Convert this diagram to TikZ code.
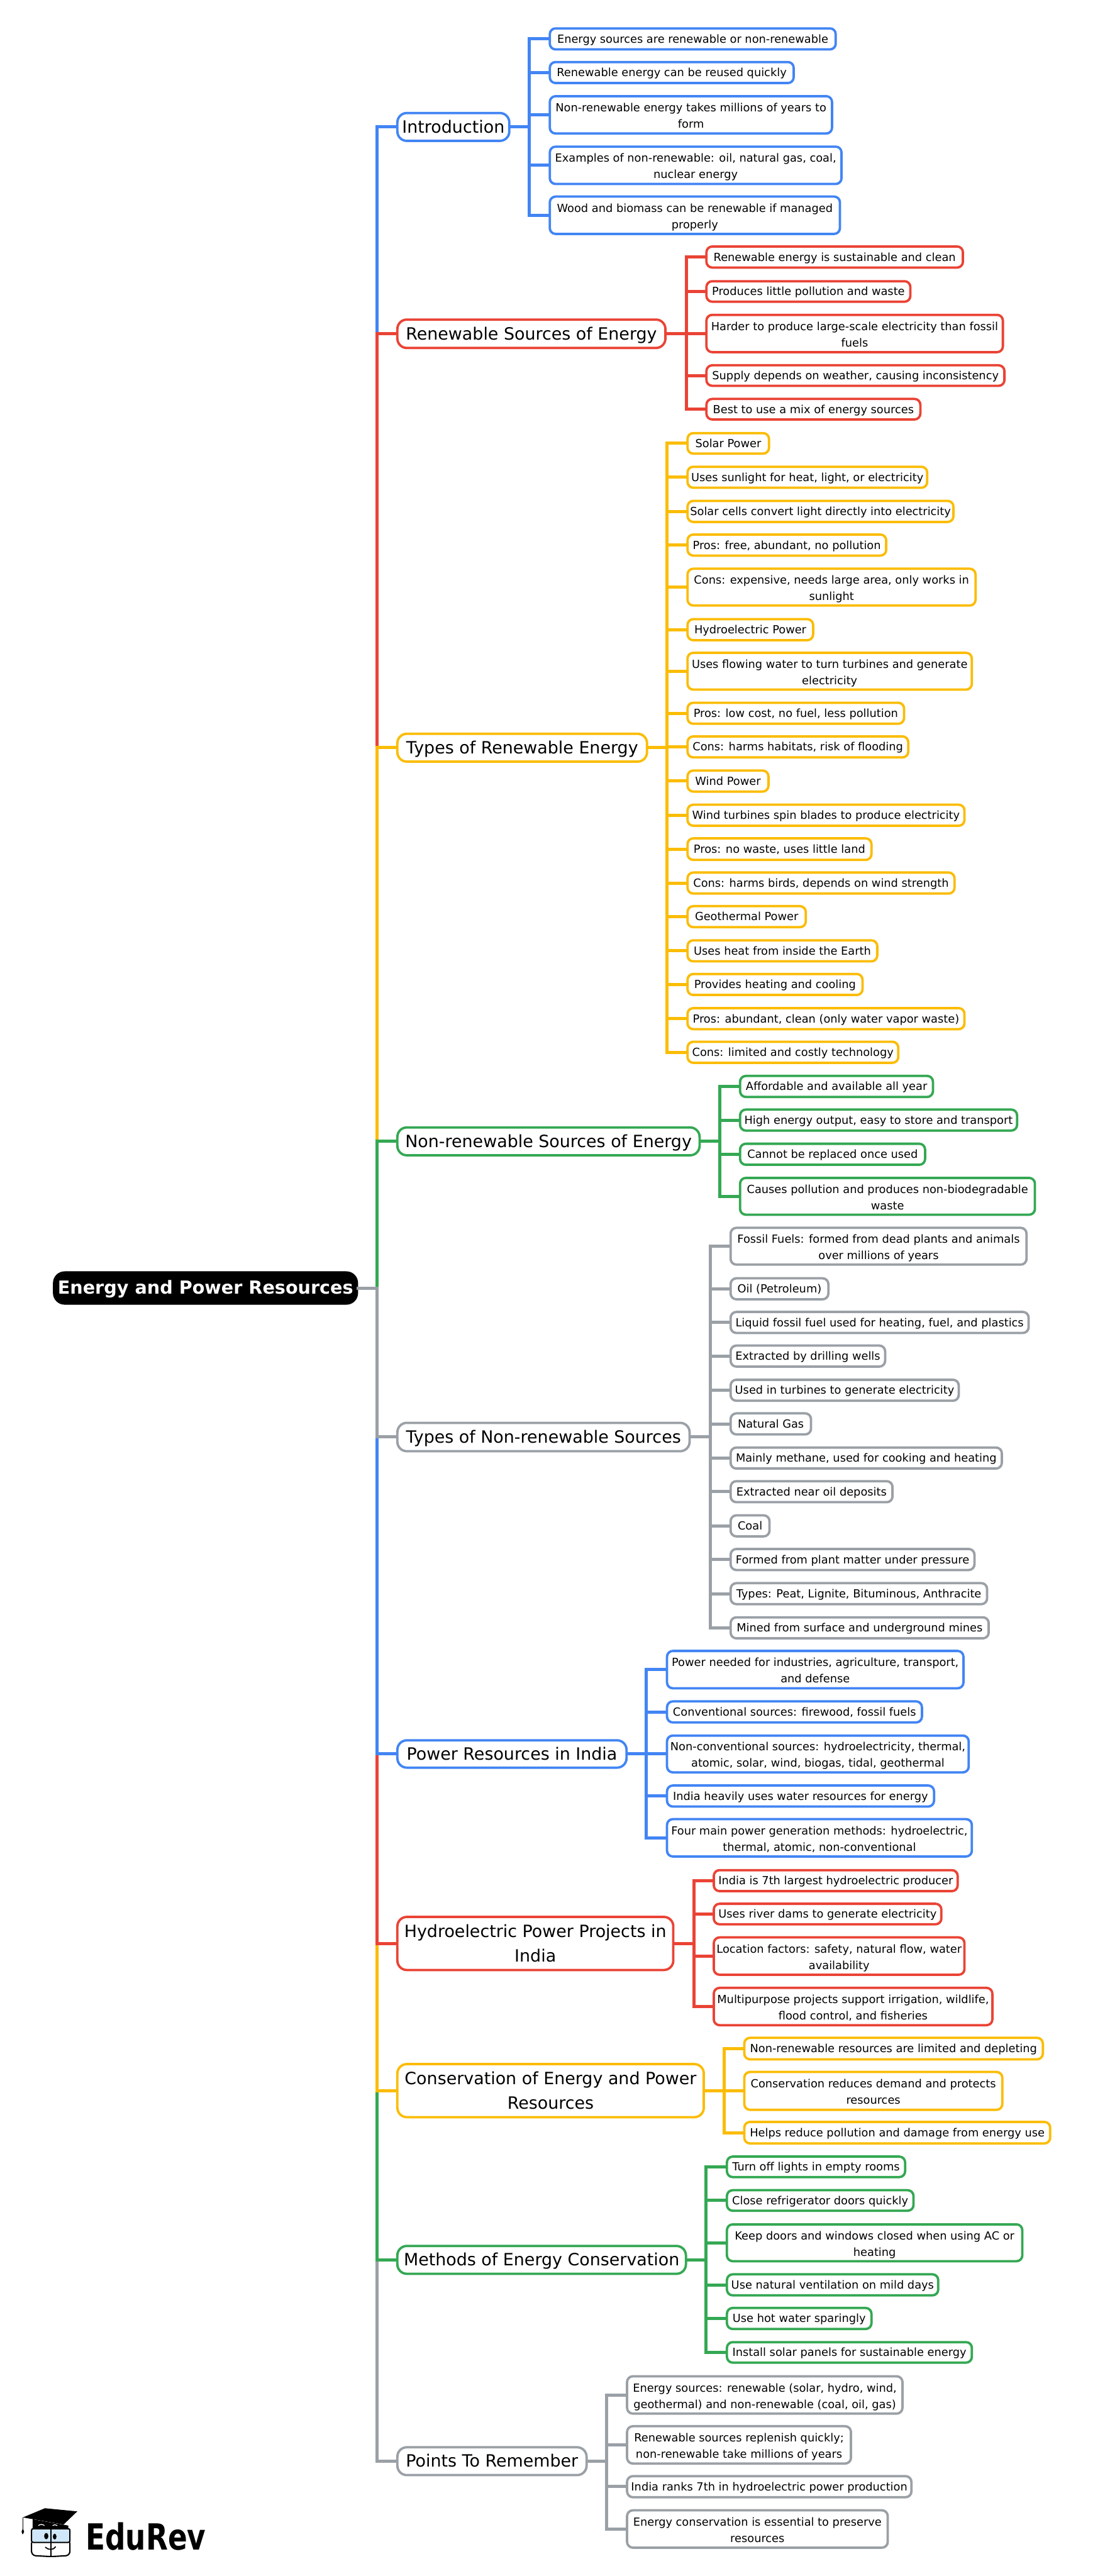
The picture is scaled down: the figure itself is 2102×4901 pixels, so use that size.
\documentclass[tikz,border=0pt]{standalone}
\usepackage{fontspec}
\setmainfont{DejaVu Sans}
\newfontfamily\logofont{DejaVu Sans Condensed}[BoldFont={DejaVu Sans Condensed Bold}]
\usetikzlibrary{arrows}
\definecolor{mapblue}{HTML}{4285F4}
\definecolor{mapred}{HTML}{EA4335}
\definecolor{mapyellow}{HTML}{FBBC04}
\definecolor{mapgreen}{HTML}{34A853}
\definecolor{mapgrey}{HTML}{9AA0A6}
\definecolor{logoglass}{HTML}{CFE7F8}
\newcommand{\linestrut}{\rule[-.255\baselineskip]{0pt}{\baselineskip}}
\newcommand{\leafline}{\rule{0pt}{.87\baselineskip}}
\newcommand{\topicline}{\rule{0pt}{.755\baselineskip}}
\tikzset{
  spanbox/.style n args={4}{at={(#1+2,-#2-2)},anchor=north west,
    minimum width={(#3-#1-4)*0.01cm},minimum height={(#4-#2-4)*0.01cm}},
  mapnode/.style={draw,fill=white,text=black,line width=0.045cm,inner sep=0pt,outer sep=0pt,align=center,
    execute at begin node=\linestrut,execute at end node=\linestrut},
  leaf/.style={mapnode,draw=#1,rounded corners=0.11cm,font=\fontsize{6.05}{8.82}\selectfont},
  topic/.style={mapnode,draw=#1,rounded corners=0.18cm,font=\fontsize{9.15}{13.1}\selectfont},
  conn/.style={line width=0.06cm,miter limit=10}
}
\begin{document}
\begin{tikzpicture}[x=0.01cm,y=0.01cm]
\useasboundingbox (0,0) rectangle (2102,-4901);
\node[mapnode,spanbox={101}{2419}{681}{2482},fill=black,draw=black,rounded corners=0.2cm,text=white,font=\fontsize{9.75}{13.1}\selectfont\bfseries] (root) {Energy and Power Resources};
\coordinate (trunk) at (717,-2450.5);
% first level
\node[topic=mapblue,spanbox={754}{213}{971}{270}] (intro) {Introduction};
\node[topic=mapred,spanbox={754}{606}{1268}{664}] (renew) {Renewable Sources of Energy};
\node[topic=mapyellow,spanbox={754}{1394}{1233}{1451}] (kinds) {Types of Renewable Energy};
\node[topic=mapgreen,spanbox={754}{2143}{1333}{2200}] (nonren) {Non-renewable Sources of Energy};
\node[topic=mapgrey,spanbox={754}{2705}{1314}{2763}] (fossil) {Types of Non-renewable Sources};
\node[topic=mapblue,spanbox={754}{3309}{1194}{3365}] (india) {Power Resources in India};
\node[topic=mapred,spanbox={754}{3645}{1283}{3750}] (hydro) {\topicline Hydroelectric Power Projects in\\India};
\node[topic=mapyellow,spanbox={754}{3925}{1341}{4030}] (save) {\topicline Conservation of Energy and Power\\Resources};
\node[topic=mapgreen,spanbox={754}{4271}{1307}{4328}] (method) {Methods of Energy Conservation};
\node[topic=mapgrey,spanbox={754}{4654}{1118}{4711}] (recall) {Points To Remember};
% Introduction
\node[leaf=mapblue,spanbox={1044}{52}{1592}{96}] (introa) {Energy sources are renewable or non-renewable};
\node[leaf=mapblue,spanbox={1044}{116}{1512}{160}] (introb) {Renewable energy can be reused quickly};
\node[leaf=mapblue,spanbox={1044}{181}{1585}{256}] (introc) {\leafline Non-renewable energy takes millions of years to\\form};
\node[leaf=mapblue,spanbox={1044}{277}{1603}{352}] (introd) {\leafline Examples of non-renewable: oil, natural gas, coal,\\nuclear energy};
\node[leaf=mapblue,spanbox={1044}{372}{1600}{447}] (introe) {\leafline Wood and biomass can be renewable if managed\\properly};
% Renewable sources
\node[leaf=mapred,spanbox={1342}{467}{1834}{511}] (renewa) {Renewable energy is sustainable and clean};
\node[leaf=mapred,spanbox={1342}{533}{1734}{576}] (renewb) {Produces little pollution and waste};
\node[leaf=mapred,spanbox={1342}{597}{1910}{672}] (renewc) {\leafline Harder to produce large-scale electricity than fossil\\fuels};
\node[leaf=mapred,spanbox={1342}{693}{1913}{736}] (renewd) {Supply depends on weather, causing inconsistency};
\node[leaf=mapred,spanbox={1342}{757}{1753}{800}] (renewe) {Best to use a mix of energy sources};
% Types of renewable
\node[leaf=mapyellow,spanbox={1306}{822}{1465}{865}] (kindsa) {Solar Power};
\node[leaf=mapyellow,spanbox={1306}{886}{1766}{930}] (kindsb) {Uses sunlight for heat, light, or electricity};
\node[leaf=mapyellow,spanbox={1306}{951}{1816}{995}] (kindsc) {Solar cells convert light directly into electricity};
\node[leaf=mapyellow,spanbox={1306}{1015}{1688}{1059}] (kindsd) {Pros: free, abundant, no pollution};
\node[leaf=mapyellow,spanbox={1306}{1080}{1858}{1154}] (kindse) {\leafline Cons: expensive, needs large area, only works in\\sunlight};
\node[leaf=mapyellow,spanbox={1306}{1176}{1549}{1220}] (kindsf) {Hydroelectric Power};
\node[leaf=mapyellow,spanbox={1306}{1240}{1851}{1314}] (kindsg) {\leafline Uses flowing water to turn turbines and generate\\electricity};
\node[leaf=mapyellow,spanbox={1306}{1335}{1722}{1379}] (kindsh) {Pros: low cost, no fuel, less pollution};
\node[leaf=mapyellow,spanbox={1306}{1399}{1730}{1443}] (kindsi) {Cons: harms habitats, risk of flooding};
\node[leaf=mapyellow,spanbox={1306}{1464}{1464}{1508}] (kindsj) {Wind Power};
\node[leaf=mapyellow,spanbox={1306}{1529}{1837}{1573}] (kindsk) {Wind turbines spin blades to produce electricity};
\node[leaf=mapyellow,spanbox={1306}{1593}{1660}{1638}] (kindsl) {Pros: no waste, uses little land};
\node[leaf=mapyellow,spanbox={1306}{1658}{1818}{1702}] (kindsm) {Cons: harms birds, depends on wind strength};
\node[leaf=mapyellow,spanbox={1306}{1722}{1535}{1766}] (kindsn) {Geothermal Power};
\node[leaf=mapyellow,spanbox={1306}{1787}{1671}{1831}] (kindso) {Uses heat from inside the Earth};
\node[leaf=mapyellow,spanbox={1306}{1851}{1643}{1895}] (kindsp) {Provides heating and cooling};
\node[leaf=mapyellow,spanbox={1306}{1916}{1837}{1960}] (kindsq) {Pros: abundant, clean (only water vapor waste)};
\node[leaf=mapyellow,spanbox={1306}{1980}{1711}{2024}] (kindsr) {Cons: limited and costly technology};
% Non-renewable sources
\node[leaf=mapgreen,spanbox={1406}{2045}{1777}{2089}] (nonrena) {Affordable and available all year};
\node[leaf=mapgreen,spanbox={1406}{2109}{1937}{2153}] (nonrenb) {High energy output, easy to store and transport};
\node[leaf=mapgreen,spanbox={1406}{2174}{1762}{2218}] (nonrenc) {Cannot be replaced once used};
\node[leaf=mapgreen,spanbox={1406}{2239}{1971}{2313}] (nonrend) {\leafline Causes pollution and produces non-biodegradable\\waste};
% Types of non-renewable
\node[leaf=mapgrey,spanbox={1388}{2334}{1955}{2408}] (fossila) {\leafline Fossil Fuels: formed from dead plants and animals\\over millions of years};
\node[leaf=mapgrey,spanbox={1388}{2430}{1578}{2474}] (fossilb) {Oil (Petroleum)};
\node[leaf=mapgrey,spanbox={1388}{2494}{1959}{2538}] (fossilc) {Liquid fossil fuel used for heating, fuel, and plastics};
\node[leaf=mapgrey,spanbox={1388}{2558}{1686}{2602}] (fossild) {Extracted by drilling wells};
\node[leaf=mapgrey,spanbox={1388}{2623}{1826}{2667}] (fossile) {Used in turbines to generate electricity};
\node[leaf=mapgrey,spanbox={1388}{2687}{1545}{2731}] (fossilf) {Natural Gas};
\node[leaf=mapgrey,spanbox={1388}{2752}{1908}{2796}] (fossilg) {Mainly methane, used for cooking and heating};
\node[leaf=mapgrey,spanbox={1388}{2816}{1700}{2860}] (fossilh) {Extracted near oil deposits};
\node[leaf=mapgrey,spanbox={1388}{2881}{1466}{2925}] (fossili) {Coal};
\node[leaf=mapgrey,spanbox={1388}{2945}{1856}{2989}] (fossilj) {Formed from plant matter under pressure};
\node[leaf=mapgrey,spanbox={1388}{3010}{1880}{3054}] (fossilk) {Types: Peat, Lignite, Bituminous, Anthracite};
\node[leaf=mapgrey,spanbox={1388}{3075}{1883}{3119}] (fossill) {Mined from surface and underground mines};
% Power resources in India
\node[leaf=mapblue,spanbox={1267}{3139}{1835}{3214}] (indiaa) {\leafline Power needed for industries, agriculture, transport,\\and defense};
\node[leaf=mapblue,spanbox={1267}{3235}{1756}{3279}] (indiab) {Conventional sources: firewood, fossil fuels};
\node[leaf=mapblue,spanbox={1267}{3300}{1845}{3374}] (indiac) {\leafline Non-conventional sources: hydroelectricity, thermal,\\atomic, solar, wind, biogas, tidal, geothermal};
\node[leaf=mapblue,spanbox={1267}{3395}{1779}{3439}] (indiad) {India heavily uses water resources for energy};
\node[leaf=mapblue,spanbox={1267}{3459}{1851}{3534}] (indiae) {\leafline Four main power generation methods: hydroelectric,\\thermal, atomic, non-conventional};
% Hydroelectric projects
\node[leaf=mapred,spanbox={1356}{3556}{1824}{3600}] (hydroa) {India is 7th largest hydroelectric producer};
\node[leaf=mapred,spanbox={1356}{3620}{1793}{3663}] (hydrob) {Uses river dams to generate electricity};
\node[leaf=mapred,spanbox={1356}{3684}{1837}{3759}] (hydroc) {\leafline Location factors: safety, natural flow, water\\availability};
\node[leaf=mapred,spanbox={1356}{3780}{1890}{3855}] (hydrod) {\leafline Multipurpose projects support irrigation, wildlife,\\flood control, and fisheries};
% Conservation
\node[leaf=mapyellow,spanbox={1414}{3875}{1986}{3920}] (savea) {Non-renewable resources are limited and depleting};
\node[leaf=mapyellow,spanbox={1414}{3940}{1909}{4016}] (saveb) {\leafline Conservation reduces demand and protects\\resources};
\node[leaf=mapyellow,spanbox={1414}{4035}{2000}{4080}] (savec) {Helps reduce pollution and damage from energy use};
% Methods
\node[leaf=mapgreen,spanbox={1381}{4101}{1724}{4144}] (methoda) {Turn off lights in empty rooms};
\node[leaf=mapgreen,spanbox={1381}{4165}{1740}{4208}] (methodb) {Close refrigerator doors quickly};
\node[leaf=mapgreen,spanbox={1381}{4230}{1947}{4304}] (methodc) {\leafline Keep doors and windows closed when using AC or\\heating};
\node[leaf=mapgreen,spanbox={1381}{4325}{1787}{4369}] (methodd) {Use natural ventilation on mild days};
\node[leaf=mapgreen,spanbox={1381}{4389}{1660}{4433}] (methode) {Use hot water sparingly};
\node[leaf=mapgreen,spanbox={1381}{4454}{1851}{4497}] (methodf) {Install solar panels for sustainable energy};
% Points to remember
\node[leaf=mapgrey,spanbox={1191}{4519}{1719}{4594}] (recalla) {\leafline Energy sources: renewable (solar, hydro, wind,\\geothermal) and non-renewable (coal, oil, gas)};
\node[leaf=mapgrey,spanbox={1191}{4614}{1621}{4689}] (recallb) {\leafline Renewable sources replenish quickly;\\non-renewable take millions of years};
\node[leaf=mapgrey,spanbox={1191}{4709}{1736}{4753}] (recallc) {India ranks 7th in hydroelectric power production};
\node[leaf=mapgrey,spanbox={1191}{4774}{1691}{4849}] (recalld) {\leafline Energy conservation is essential to preserve\\resources};
% trunk, furthest branch first
\draw[conn,mapblue] (root.east) -- (trunk) |- (intro.west);
\draw[conn,mapred] (root.east) -- (trunk) |- (renew.west);
\draw[conn,mapyellow] (root.east) -- (trunk) |- (kinds.west);
\draw[conn,mapgreen] (root.east) -- (trunk) |- (nonren.west);
\draw[conn,mapgrey] (root.east) -- (trunk) |- (recall.west);
\draw[conn,mapgreen] (root.east) -- (trunk) |- (method.west);
\draw[conn,mapyellow] (root.east) -- (trunk) |- (save.west);
\draw[conn,mapred] (root.east) -- (trunk) |- (hydro.west);
\draw[conn,mapblue] (root.east) -- (trunk) |- (india.west);
\draw[conn,mapgrey] (root.east) -- (trunk) |- (fossil.west);
% buses
\coordinate (introbus) at (1007,0);
\coordinate (renewbus) at (1306,0);
\coordinate (kindsbus) at (1269,0);
\coordinate (nonrenbus) at (1369,0);
\coordinate (fossilbus) at (1352,0);
\coordinate (indiabus) at (1230,0);
\coordinate (hydrobus) at (1320,0);
\coordinate (savebus) at (1378,0);
\coordinate (methodbus) at (1343,0);
\coordinate (recallbus) at (1154,0);
\foreach \k in {a,b,c,d,e} \draw[conn,mapblue] (intro.east) -- (introbus |- intro.east) |- (intro\k.west);
\foreach \k in {a,b,c,d,e} \draw[conn,mapred] (renew.east) -- (renewbus |- renew.east) |- (renew\k.west);
\foreach \k in {a,b,c,d,e,f,g,h,i,j,k,l,m,n,o,p,q,r} \draw[conn,mapyellow] (kinds.east) -- (kindsbus |- kinds.east) |- (kinds\k.west);
\foreach \k in {a,b,c,d} \draw[conn,mapgreen] (nonren.east) -- (nonrenbus |- nonren.east) |- (nonren\k.west);
\foreach \k in {a,b,c,d,e,f,g,h,i,j,k,l} \draw[conn,mapgrey] (fossil.east) -- (fossilbus |- fossil.east) |- (fossil\k.west);
\foreach \k in {a,b,c,d,e} \draw[conn,mapblue] (india.east) -- (indiabus |- india.east) |- (india\k.west);
\foreach \k in {a,b,c,d} \draw[conn,mapred] (hydro.east) -- (hydrobus |- hydro.east) |- (hydro\k.west);
\foreach \k in {a,b,c} \draw[conn,mapyellow] (save.east) -- (savebus |- save.east) |- (save\k.west);
\foreach \k in {a,b,c,d,e,f} \draw[conn,mapgreen] (method.east) -- (methodbus |- method.east) |- (method\k.west);
\foreach \k in {a,b,c,d} \draw[conn,mapgrey] (recall.east) -- (recallbus |- recall.east) |- (recall\k.west);
% logo
\fill [black] (62,-4793) -- (130,-4805) -- (130,-4812) -- (62,-4812) -- cycle;
\fill [black] (43.5,-4789.5) -- (85.5,-4772) -- (147,-4778) -- (121,-4803) -- cycle;
\draw [black,line width=0.012cm] (43.5,-4789.5) -- (43.5,-4811);
\fill [black] (43.5,-4810) -- (46,-4817) -- (43,-4822) -- (41,-4817) -- cycle;
\draw [white,line width=0.015cm] (73,-4805) arc (130:50:9);
\draw [white,line width=0.015cm] (100,-4805) arc (130:50:7);
\draw [black,fill=logoglass,line width=0.025cm,rounded corners=0.03cm] (60,-4811) rectangle (133,-4837);
\draw [black,line width=0.025cm,rounded corners=0.08cm] (60,-4837) -- (60,-4862) -- (97,-4864) -- (133,-4862) -- (133,-4837);
\draw [black,line width=0.025cm] (97,-4808) -- (97,-4864);
\fill [black] (88,-4825) ellipse (4 and 6);
\fill [black] (104,-4826) ellipse (3.5 and 5.5);
\draw [black,line width=0.02cm] (86,-4846) .. controls (92,-4852) and (102,-4852) .. (106,-4845);
\node[anchor=base west,inner sep=0pt,outer sep=0pt,font=\logofont\bfseries\fontsize{19.5}{19.5}\selectfont] (brand) at (163,-4851) {\scalebox{0.88}[1]{EduRev}};
\end{tikzpicture}
\end{document}
